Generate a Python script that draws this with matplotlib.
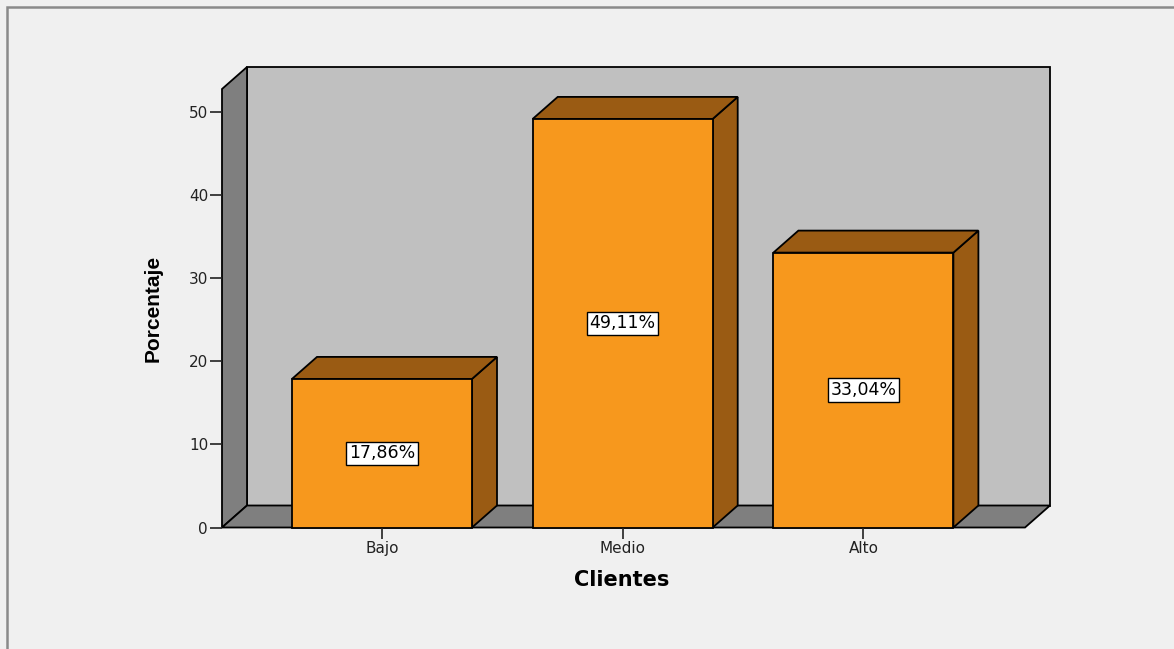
import matplotlib
matplotlib.use("Agg")
import matplotlib.pyplot as plt
from matplotlib.patches import Polygon, Rectangle

categories = ["Bajo", "Medio", "Alto"]
values = [17.86, 49.11, 33.04]
labels = ["17,86%", "49,11%", "33,04%"]
yticks = [0, 10, 20, 30, 40, 50]

W, H = 1174, 649
fig = plt.figure(figsize=(W / 100, H / 100), dpi=100)
fig.patch.set_facecolor("#f0f0f0")

# outer frame (runs off the right and bottom edges)
fig.add_artist(Rectangle((7 / W, -0.05), 1.1, 1 - 7 / H + 0.05, transform=fig.transFigure,
                         fill=False, edgecolor="#8a8a8a", lw=1.8))

# axes placed in pixels: front left axis at x=222, y=0 at 527.5, back wall top at 67
left, right, bottom, top = 222, 1049, 527.5, 67
ax = fig.add_axes([left / W, (H - bottom) / H, (right - left) / W, (bottom - top) / H])
ax.set_facecolor("none")

px_per_unit_y = (527.5 - 111.5) / 50
px_per_cat = 240.7
x0 = -(382 - 222) / px_per_cat
ax.set_xlim(x0, x0 + (right - left) / px_per_cat)
ax.set_ylim(0, (bottom - top) / px_per_unit_y)
dx = 25 / px_per_cat
dy = 22 / px_per_unit_y
xr = x0 + (1025 - 222) / px_per_cat
ymax = ax.get_ylim()[1]
wall_front_top = ymax - dy

ek = dict(edgecolor="black", lw=1.3, joinstyle="miter", clip_on=False)
# back wall
ax.add_patch(Polygon([(x0 + dx, dy), (xr + dx, dy), (xr + dx, ymax), (x0 + dx, ymax)],
                     facecolor="#c0c0c0", **ek))
# left wall
ax.add_patch(Polygon([(x0, 0), (x0 + dx, dy), (x0 + dx, ymax), (x0, wall_front_top)],
                     facecolor="#7f7f7f", **ek))
# floor
ax.add_patch(Polygon([(x0, 0), (xr, 0), (xr + dx, dy), (x0 + dx, dy)],
                     facecolor="#7f7f7f", **ek))

front = "#f7981d"
dark = "#9a5b13"
bw = 180 / px_per_cat
for i, (v, lab) in enumerate(zip(values, labels)):
    a, b = i - bw / 2, i + bw / 2
    ax.add_patch(Polygon([(b, 0), (b + dx, dy), (b + dx, v + dy), (b, v)], facecolor=dark, **ek))
    ax.add_patch(Polygon([(a, v), (b, v), (b + dx, v + dy), (a + dx, v + dy)], facecolor=dark, **ek))
    ax.add_patch(Polygon([(a, 0), (b, 0), (b, v), (a, v)], facecolor=front, **ek))
    ax.text(i, v / 2, lab, ha="center", va="center", fontsize=12.5, color="black",
            family="DejaVu Sans",
            bbox=dict(boxstyle="square,pad=0.15", facecolor="white", edgecolor="black", lw=1))

for s in ax.spines.values():
    s.set_visible(False)
ax.set_yticks(yticks)
ax.set_xticks(range(len(categories)))
ax.set_xticklabels(categories)
ax.tick_params(axis="y", length=9, width=1.2, color="#222222", labelsize=11, pad=1)
ax.tick_params(axis="x", length=8, width=1.2, color="#222222", labelsize=11, pad=2)
for t in ax.get_xticklabels() + ax.get_yticklabels():
    t.set_family("DejaVu Sans")
    t.set_color("#222222")

ax.set_xlabel("Clientes", fontsize=15, fontweight="bold", family="DejaVu Sans")
ax.xaxis.set_label_coords((622 - left) / (right - left), -(570 - bottom) / (bottom - top))
ax.set_ylabel("Porcentaje", fontsize=15, fontweight="bold", family="Liberation Sans")
ax.yaxis.set_label_coords(-(left - 163) / (right - left), (bottom - 308) / (bottom - top))

fig.savefig("out.png", dpi=100, facecolor=fig.get_facecolor())
